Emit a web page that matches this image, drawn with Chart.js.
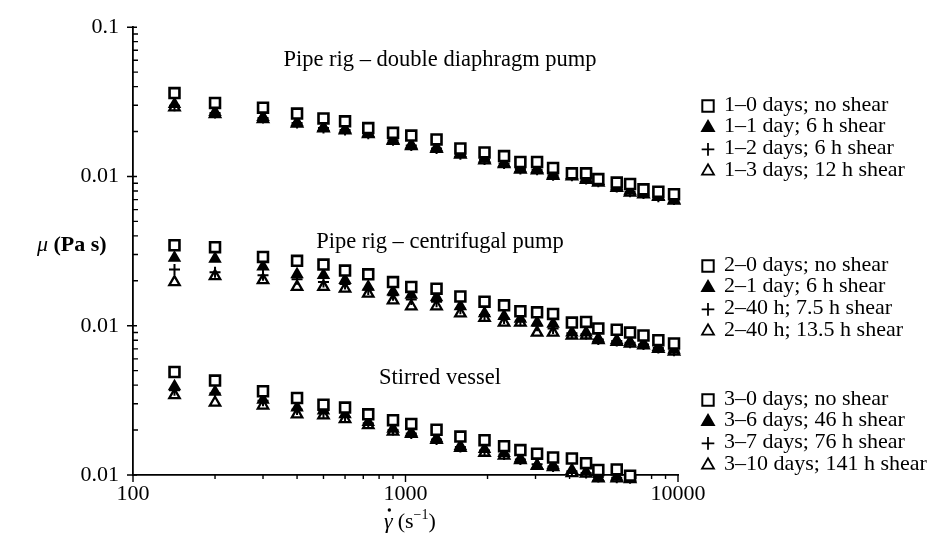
<!DOCTYPE html>
<html>
<head>
<meta charset="utf-8">
<script src="https://cdn.jsdelivr.net/npm/chart.js@4.4.0/dist/chart.umd.min.js"></script>
<style>
html, body { margin: 0; padding: 0; background: #fff; }
</style>
</head>
<body>
<canvas id="myChart" width="939" height="539"></canvas>
<script>
// shear rate (1/s), shared by every series
const shearRates = [142, 200, 300, 400, 500, 600, 730, 900, 1050, 1300, 1590, 1950, 2300, 2640, 3040, 3480, 4080, 4600, 5100, 5960, 6670, 7470, 8470, 9670]

// viscosity (Pa s). groups 2 and 3 are drawn one and two decades lower
const groupShift = [1, 10, 100]
const groupTitles = ['Pipe rig \u2013 double diaphragm pump', 'Pipe rig \u2013 centrifugal pump', 'Stirred vessel']

const g1NoShear = [0.0362, 0.0311, 0.0289, 0.0264, 0.0245, 0.0234, 0.0211, 0.0196, 0.0188, 0.0177, 0.0154, 0.0145, 0.0137, 0.0125, 0.0125, 0.0114, 0.0105, 0.0105, 0.0096, 0.0091, 0.0089, 0.0082, 0.0079, 0.0076]
const g1Day1 = [0.0305, 0.0270, 0.0250, 0.0230, 0.0213, 0.0207, 0.0195, 0.0176, 0.0163, 0.0156, 0.0143, 0.0131, 0.0123, 0.0113, 0.0112, 0.0103, 0.0102, 0.0097, 0.0093, 0.0086, 0.0080, 0.0078, 0.0074, 0.0070]
const g1Day2 = [0.0298, 0.0266, 0.0246, 0.0228, 0.0211, 0.0205, 0.0193, 0.0175, 0.0161, 0.0154, 0.0141, 0.0130, 0.0122, 0.0112, 0.0111, 0.0102, 0.0101, 0.0096, 0.0092, 0.0085, 0.0079, 0.0077, 0.0073, 0.0070]
const g1Day3 = [0.0290, 0.0262, 0.0242, 0.0226, 0.0210, 0.0204, 0.0192, 0.0173, 0.0160, 0.0153, 0.0140, 0.0128, 0.0121, 0.0111, 0.0110, 0.0101, 0.0100, 0.0095, 0.0091, 0.0084, 0.0078, 0.0076, 0.0073, 0.0069]

const g2NoShear = [0.0346, 0.0336, 0.0289, 0.0272, 0.0257, 0.0234, 0.0221, 0.0196, 0.0182, 0.0177, 0.0157, 0.0145, 0.0137, 0.0125, 0.0123, 0.0120, 0.0105, 0.0106, 0.0096, 0.0094, 0.0090, 0.0086, 0.0080, 0.0076]
const g2Day1 = [0.0285, 0.0281, 0.0249, 0.0221, 0.0218, 0.0202, 0.0182, 0.0169, 0.0161, 0.0155, 0.0135, 0.0121, 0.0116, 0.0111, 0.0105, 0.0103, 0.0090, 0.0090, 0.0082, 0.0080, 0.0078, 0.0076, 0.0072, 0.0069]
const g2h40a = [0.0238, 0.0228, 0.0218, 0.0205, 0.0196, 0.0190, 0.0175, 0.0160, 0.0150, 0.0145, 0.0130, 0.0118, 0.0112, 0.0108, 0.0100, 0.0096, 0.0089, 0.0088, 0.0081, 0.0079, 0.0077, 0.0075, 0.0071, 0.0068]
const g2h40b = [0.0196, 0.0215, 0.0202, 0.0182, 0.0182, 0.0177, 0.0164, 0.0148, 0.0135, 0.0135, 0.0121, 0.0113, 0.0105, 0.0105, 0.0090, 0.0090, 0.0086, 0.0086, 0.0080, 0.0078, 0.0076, 0.0074, 0.0070, 0.0067]

const g3NoShear = [0.0490, 0.0429, 0.0364, 0.0328, 0.0296, 0.0283, 0.0255, 0.0233, 0.0220, 0.0201, 0.0181, 0.0171, 0.0156, 0.0147, 0.0139, 0.0131, 0.0129, 0.0120, 0.0108, 0.0109, 0.0099]
const g3Day6 = [0.0392, 0.0360, 0.0319, 0.0283, 0.0270, 0.0255, 0.0226, 0.0204, 0.0192, 0.0176, 0.0156, 0.0149, 0.0140, 0.0129, 0.0116, 0.0116, 0.0108, 0.0105, 0.0096, 0.0097, 0.0096]
const g3Day7 = [0.0370, 0.0353, 0.0314, 0.0275, 0.0262, 0.0245, 0.0222, 0.0200, 0.0190, 0.0173, 0.0154, 0.0146, 0.0137, 0.0127, 0.0118, 0.0114, 0.0106, 0.0103, 0.0097, 0.0096, 0.0095]
const g3Day10 = [0.0343, 0.0305, 0.0292, 0.0255, 0.0251, 0.0237, 0.0216, 0.0195, 0.0189, 0.0172, 0.0152, 0.0141, 0.0135, 0.0126, 0.0115, 0.0113, 0.0103, 0.0102, 0.0095, 0.0095, 0.0094]

const groupSeries = [
  [g1NoShear, g1Day1, g1Day2, g1Day3],
  [g2NoShear, g2Day1, g2h40a, g2h40b],
  [g3NoShear, g3Day6, g3Day7, g3Day10]
]
const seriesLabels = [
  ['1\u20130 days; no shear', '1\u20131 day; 6 h shear', '1\u20132 days; 6 h shear', '1\u20133 days; 12 h shear'],
  ['2\u20130 days; no shear', '2\u20131 day; 6 h shear', '2\u201340 h; 7.5 h shear', '2\u201340 h; 13.5 h shear'],
  ['3\u20130 days; no shear', '3\u20136 days; 46 h shear', '3\u20137 days; 76 h shear', '3\u201310 days; 141 h shear']
]

// axis ticks
const xTickValues = [100, 1000, 10000]
const xTickLabels = ['100', '1000', '10000']
const yTickValues = [0.1, 0.01, 0.001, 0.0001]
const yTickLabels = ['0.1', '0.01', '0.01', '0.01']

const FONT = 'Liberation Serif'

const markers = [
  { pointStyle: 'rect', radius: 7, fill: '#fff', width: 2.6 },
  { pointStyle: 'triangle', radius: 6, fill: '#000', width: 1.8 },
  { pointStyle: 'cross', radius: 5.5, fill: '#000', width: 2 },
  { pointStyle: 'triangle', radius: 6, fill: '#fff', width: 2.3 }
]

const datasets = []
groupSeries.forEach((series, g) => {
  series.forEach((vals, s) => {
    const m = markers[s]
    datasets.push({
      label: seriesLabels[g][s],
      data: vals.map((v, i) => ({ x: shearRates[i], y: v / groupShift[g] })),
      pointStyle: m.pointStyle,
      pointRadius: m.radius,
      pointBackgroundColor: m.fill,
      pointBorderColor: '#000',
      pointBorderWidth: m.width,
      showLine: false,
      clip: false,
      order: s
    })
  })
})

// minor/major tick marks, titles, group notes and the grouped legend
const extras = {
  id: 'extras',
  afterDraw(chart) {
    const ctx = chart.ctx
    const xs = chart.scales.x
    const ys = chart.scales.y
    const ax = xs.left
    const ay = ys.bottom
    ctx.save()
    ctx.strokeStyle = '#000'
    ctx.lineWidth = 1.4
    ctx.beginPath()
    for (let d = 100; d < 10000; d *= 10) {
      for (let k = 1; k <= 10; k++) {
        const px = xs.getPixelForValue(d * k)
        const len = (k === 1 || k === 10) ? 7 : 4
        ctx.moveTo(px, ay)
        ctx.lineTo(px, ay + len)
      }
    }
    for (let d = 0.0001; d < 0.1; d *= 10) {
      for (let k = 1; k <= 10; k++) {
        const py = ys.getPixelForValue(d * k)
        if (k === 1 || k === 10) {
          ctx.moveTo(ax - 6, py)
          ctx.lineTo(ax + 4, py)
        } else {
          ctx.moveTo(ax, py)
          ctx.lineTo(ax + 5, py)
        }
      }
    }
    ctx.stroke()

    ctx.fillStyle = '#000'
    ctx.textBaseline = 'middle'

    // group notes
    ctx.textAlign = 'center'
    ctx.font = '22.5px ' + FONT
    const noteY = [60, 242, 378]
    groupTitles.forEach((t, g) => ctx.fillText(t, 440, noteY[g]))

    // y title
    ctx.textAlign = 'left'
    ctx.font = 'italic 22px ' + FONT
    ctx.fillText('\u03bc', 37, 245)
    let w = ctx.measureText('\u03bc ').width
    ctx.font = 'bold 22px ' + FONT
    ctx.fillText('(Pa s)', 37 + w, 245)

    // x title
    ctx.font = 'italic 22px ' + FONT
    const tx = 384, ty = 522
    ctx.fillText('\u03b3', tx, ty)
    const gw = ctx.measureText('\u03b3').width
    ctx.beginPath()
    ctx.arc(tx + gw / 2 + 1, ty - 12, 1.7, 0, Math.PI * 2)
    ctx.fill()
    ctx.font = '22px ' + FONT
    let cx = tx + gw + 5
    ctx.fillText('(s', cx, ty)
    cx += ctx.measureText('(s').width
    ctx.font = '14px ' + FONT
    ctx.fillText('\u22121', cx, ty - 7)
    cx += ctx.measureText('\u22121').width
    ctx.font = '22px ' + FONT
    ctx.fillText(')', cx, ty)

    // legend
    const legendTop = [105, 265, 399]
    seriesLabels.forEach((labels, g) => {
      labels.forEach((txt, s) => {
        const y = legendTop[g] + s * 21.7
        const m = markers[s]
        ctx.fillStyle = m.fill
        ctx.strokeStyle = '#000'
        ctx.lineWidth = s === 0 ? 2 : 1.8
        Chart.helpers.drawPoint(ctx, { pointStyle: m.pointStyle, radius: m.radius * 1.15, rotation: 0, borderWidth: ctx.lineWidth }, 708, y + 1)
        ctx.fillStyle = '#000'
        ctx.font = '22px ' + FONT
        ctx.textAlign = 'left'
        ctx.fillText(txt, 724, y)
      })
    })
    ctx.restore()
  }
}

const ctx = document.getElementById('myChart')
const myChart = new Chart(ctx, {
  type: 'scatter',
  data: { datasets: datasets },
  options: {
    responsive: false,
    animation: false,
    layout: { padding: { top: 13, right: 261, bottom: 0, left: 0 } },
    plugins: { legend: { display: false }, tooltip: { enabled: false } },
    scales: {
      x: {
        type: 'logarithmic',
        min: 100,
        max: 10000,
        afterBuildTicks: s => { s.ticks = xTickValues.map(v => ({ value: v })) },
        afterFit: s => { s.height = 64 },
        ticks: {
          autoSkip: false,
          maxRotation: 0,
          padding: 6,
          color: '#000',
          font: { family: FONT, size: 22 },
          callback: (v, i) => xTickLabels[i]
        },
        grid: { display: false, drawTicks: false },
        border: { display: true, color: '#000', width: 1.8 }
      },
      y: {
        type: 'logarithmic',
        min: 0.0001,
        max: 0.1,
        afterBuildTicks: s => { s.ticks = yTickValues.map(v => ({ value: v })) },
        afterFit: s => { s.width = 133 },
        ticks: {
          autoSkip: false,
          padding: 14,
          color: '#000',
          font: { family: FONT, size: 22 },
          callback: (v, i) => yTickLabels[i]
        },
        grid: { display: false, drawTicks: false },
        border: { display: true, color: '#000', width: 1.8 }
      }
    }
  },
  plugins: [extras]
})
</script>
</body>
</html>
